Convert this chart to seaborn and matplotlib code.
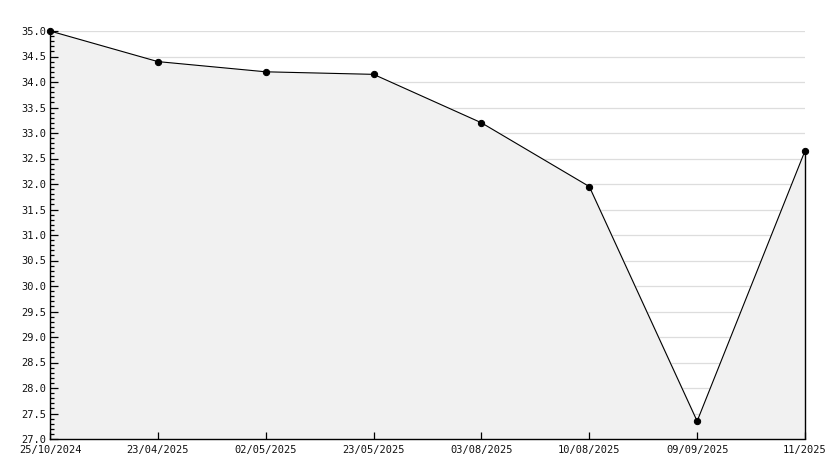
import matplotlib
matplotlib.use('Agg')
import matplotlib.pyplot as plt
import seaborn as sns
import pandas as pd
import numpy as np
from matplotlib.ticker import MultipleLocator, FormatStrFormatter

sns.set_style('ticks')
plt.rcParams['font.family'] = ['DejaVu Sans Mono', 'DejaVu Sans']

# data
dates  = ['25/10/2024', '23/04/2025', '02/05/2025', '23/05/2025',
          '03/08/2025', '10/08/2025', '09/09/2025', '11/2025']
values = [35.0, 34.4, 34.2, 34.15, 33.2, 31.95, 27.35, 32.65]

df = pd.DataFrame({'pos': range(len(dates)), 'value': values})

fig = plt.figure(figsize=(8.34, 4.68), dpi=100)
ax = fig.add_axes([50/834, 29/468, 755/834, 408/468])
ax.set_axisbelow(False)

# light fill under the line, drawn over the grid
ax.fill_between(df['pos'], 27.0, df['value'], color='#f1f1f1', zorder=2)
# closing edge of the area on the right
ax.vlines(df['pos'].iloc[-1], 27.0, df['value'].iloc[-1], color='black',
          linewidth=1.0, zorder=3, clip_on=False)
sns.lineplot(data=df, x='pos', y='value', color='black', linewidth=0.8,
             marker='o', markersize=4.5, markeredgecolor='black', ax=ax,
             zorder=3, clip_on=False)

ax.set_xlim(0, len(dates) - 1)
ax.set_ylim(27.0, 35.0)
ax.yaxis.set_major_locator(MultipleLocator(0.5))
ax.yaxis.set_minor_locator(MultipleLocator(0.1))
ax.yaxis.set_major_formatter(FormatStrFormatter('%.1f'))
ax.set_xticks(list(df['pos']))
ax.set_xticklabels(dates)

# horizontal grid kept under the fill
ax.grid(False)
for yv in np.arange(27.5, 35.01, 0.5):
    ax.axhline(yv, color='#dddddd', linewidth=0.9, zorder=1)

for s in ['top', 'right']:
    ax.spines[s].set_visible(False)
for s in ['left', 'bottom']:
    ax.spines[s].set_color('black')
    ax.spines[s].set_linewidth(1)
    ax.spines[s].set_zorder(4)

ax.tick_params(axis='y', which='major', direction='in', length=6, width=0.9,
               color='black', labelsize=7.5, pad=3, left=True)
ax.tick_params(axis='y', which='minor', direction='in', length=3, width=0.9,
               color='black', left=True)
ax.tick_params(axis='x', which='major', direction='in', length=5, width=0.9,
               color='black', labelsize=7.5, pad=4, bottom=True)
ax.tick_params(labelcolor='#111111')
ax.set_xlabel('')
ax.set_ylabel('')

fig.savefig('out.png', dpi=100)
